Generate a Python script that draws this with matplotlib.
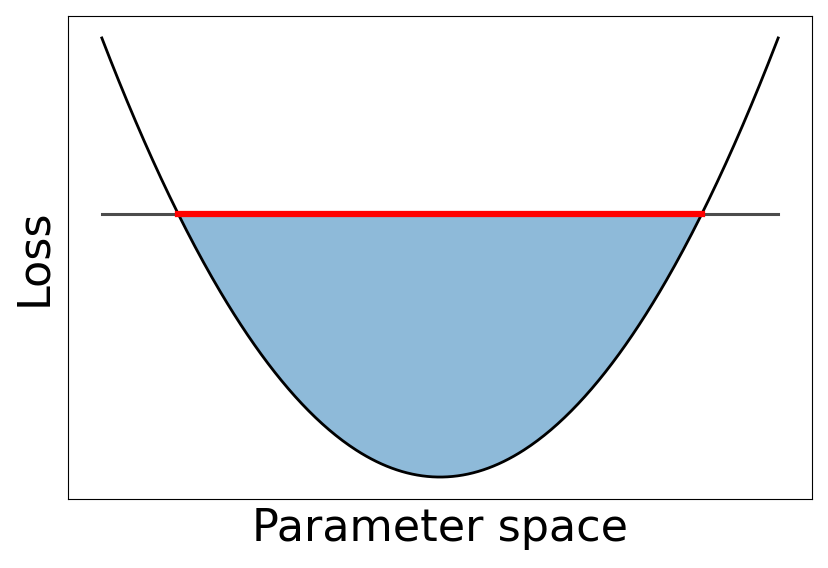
import numpy as np
import matplotlib.pyplot as plt

# curva de perdida: parabola y = a*x^2 en x entre -1 y 1
x_lim = [-1.0, 1.0]
coef_a = 1.0
n_puntos = 400
nivel_umbral = 0.6

x = np.linspace(x_lim[0], x_lim[1], n_puntos)
y = coef_a * x**2
x_corte = np.sqrt(nivel_umbral / coef_a)
dentro = np.abs(x) <= x_corte

fig = plt.figure(figsize=(8.29, 5.68), dpi=100)
ax = fig.add_axes([68/829, 69/568, 744/829, 483/568])

ax.fill_between(x[dentro], y[dentro], nivel_umbral, color='C0', alpha=0.5, lw=0)
ax.plot(x, y, color='k', lw=2.0)
ax.plot(x_lim, [nivel_umbral, nivel_umbral], color='k', alpha=0.7, lw=2.2)
ax.plot([-x_corte, x_corte], [nivel_umbral, nivel_umbral], color='red', lw=4.5)

ax.set_xticks([])
ax.set_yticks([])
ax.set_xlabel('Parameter space', fontsize=32, labelpad=6)
ax.set_ylabel('Loss', fontsize=32, labelpad=9)

fig.savefig('out.png', dpi=100)
